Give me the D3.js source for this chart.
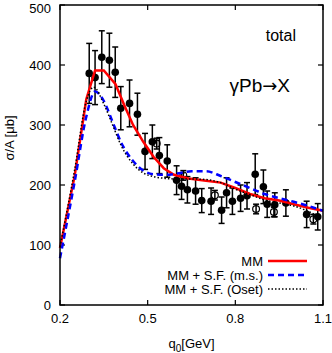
<!DOCTYPE html>
<html>
<head>
<meta charset="utf-8">
<script src="https://cdn.jsdelivr.net/npm/d3@7"></script>
<style>
  body { margin: 0; background: #fff; }
  svg { display: block; font-family: "Liberation Sans", Arial, sans-serif; }
</style>
</head>
<body>
<div id="chart"></div>
<script>
// Data (q0 in GeV, sigma/A in microbarn).
var dataX   = [0.300, 0.320, 0.343, 0.369, 0.389, 0.408, 0.438, 0.465, 0.491, 0.516, 0.540, 0.567, 0.599, 0.616, 0.636, 0.664, 0.685, 0.717, 0.753, 0.770, 0.790, 0.818, 0.840, 0.868, 0.896, 0.909, 0.935, 0.973, 1.044, 1.082];
var dataY   = [386, 379, 413, 408, 388, 328, 336, 318, 256, 272, 249, 240, 208, 198, 192, 190, 174, 173, 158, 187, 173, 178, 182, 218, 197, 168, 167, 170, 151, 147];
var dataErr = [50, 45, 44, 45, 42, 36, 39, 35, 30, 28, 30, 27, 24, 22, 22, 22, 20, 22, 22, 25, 22, 22, 22, 34, 28, 22, 20, 22, 22, 22];

var openX   = [0.531, 0.622, 0.730, 0.871, 0.932, 1.067];
var openY   = [269, 216, 183, 160, 155, 143];
var openErr = [9, 8, 8, 8, 8, 8];

var mmX  = [0.2, 0.25, 0.29, 0.32, 0.35, 0.39, 0.42, 0.45, 0.485, 0.52, 0.555, 0.59, 0.64, 0.7, 0.75, 0.8, 0.85, 0.9, 0.95, 1.0, 1.05, 1.1];
var mmY  = [95, 215, 343, 391, 391, 368, 333, 300, 272, 247, 228, 217, 211, 207, 204, 195, 185, 178, 174, 168, 162, 157];

var msX  = [0.2, 0.25, 0.29, 0.32, 0.35, 0.38, 0.41, 0.45, 0.485, 0.52, 0.56, 0.6, 0.65, 0.7, 0.75, 0.8, 0.85, 0.9, 0.95, 1.0, 1.05, 1.1];
var msY  = [78, 205, 314, 356, 340, 305, 270, 240, 224, 218, 217, 219, 223, 223, 215, 205, 195, 185, 178, 172, 165, 157];

var osetX = [0.2, 0.25, 0.29, 0.315, 0.35, 0.38, 0.41, 0.45, 0.485, 0.52, 0.56, 0.6, 0.65, 0.7, 0.75, 0.8, 0.85, 0.9, 0.95, 1.0, 1.05, 1.09];
var osetY = [97, 225, 340, 363, 335, 300, 265, 235, 220, 214, 211, 210, 210, 209, 204, 193, 184, 175, 170, 165, 156, 146];

var xTicks = [0.2, 0.5, 0.8, 1.1];
var yTicks = [0, 100, 200, 300, 400, 500];

var legendNames = ["MM", "MM + S.F. (m.s.)", "MM + S.F. (Oset)"];

(function () {
  "use strict";

  var W = 332, H = 353;
  var m = { left: 60, right: 9, top: 5, bottom: 48 };

  var svg = d3.select("#chart").append("svg")
    .attr("width", W).attr("height", H);

  var x = d3.scaleLinear().domain([0.2, 1.1]).range([m.left, W - m.right]);
  var y = d3.scaleLinear().domain([0, 500]).range([H - m.bottom, m.top]);

  var x0 = x.range()[0], x1 = x.range()[1];
  var y0 = y.range()[0], y1 = y.range()[1];
  var tl = 5;

  // frame with inward ticks on all four sides (gnuplot style)
  var axes = svg.append("g").attr("stroke", "#000").attr("stroke-width", 1.2);
  xTicks.forEach(function (t) {
    axes.append("line").attr("x1", x(t)).attr("x2", x(t)).attr("y1", y0).attr("y2", y0 - tl);
    axes.append("line").attr("x1", x(t)).attr("x2", x(t)).attr("y1", y1).attr("y2", y1 + tl);
  });
  yTicks.forEach(function (t) {
    axes.append("line").attr("x1", x0).attr("x2", x0 + tl).attr("y1", y(t)).attr("y2", y(t));
    axes.append("line").attr("x1", x1).attr("x2", x1 - tl).attr("y1", y(t)).attr("y2", y(t));
  });

  var labels = svg.append("g").attr("font-size", 13).attr("fill", "#000");
  xTicks.forEach(function (t) {
    labels.append("text").attr("x", x(t)).attr("y", y0 + 18)
      .attr("text-anchor", "middle").text(d3.format(".1f")(t));
  });
  yTicks.forEach(function (t) {
    labels.append("text").attr("x", x0 - 9).attr("y", Math.max(y(t), 8)).attr("dy", "0.35em")
      .attr("text-anchor", "end").text(t);
  });

  var xl = labels.append("text").attr("x", (x0 + x1) / 2).attr("y", H - 5)
    .attr("text-anchor", "middle");
  xl.append("tspan").text("q");
  xl.append("tspan").attr("font-size", 10).attr("dy", 4).text("0");
  xl.append("tspan").attr("dy", -4).text("[GeV]");

  labels.append("text")
    .attr("transform", "translate(14," + 138 + ") rotate(-90)")
    .attr("text-anchor", "middle").text("σ/A [μb]");

  svg.append("text").attr("x", 296).attr("y", 41).attr("text-anchor", "end")
    .attr("font-size", 16).text("total");
  var react = svg.append("text").attr("x", 290).attr("y", 92).attr("text-anchor", "end")
    .attr("font-size", 19);
  react.append("tspan").text("γPb");
  react.append("tspan").attr("font-family", "DejaVu Sans").attr("font-size", 18).text("→");
  react.append("tspan").text("X");

  // error bars and points
  var pts = svg.append("g");
  function errBars(xs, ys, es) {
    var g = pts.append("g").attr("stroke", "#000").attr("stroke-width", 1.5);
    xs.forEach(function (xv, i) {
      var cx = x(xv), top = y(ys[i] + es[i]), bot = y(ys[i] - es[i]);
      g.append("line").attr("x1", cx).attr("x2", cx).attr("y1", top).attr("y2", bot);
      g.append("line").attr("x1", cx - 3).attr("x2", cx + 3).attr("y1", top).attr("y2", top);
      g.append("line").attr("x1", cx - 3).attr("x2", cx + 3).attr("y1", bot).attr("y2", bot);
    });
  }
  errBars(dataX, dataY, dataErr);
  errBars(openX, openY, openErr);

  pts.append("g").selectAll("circle").data(dataX).join("circle")
    .attr("cx", function (d) { return x(d); })
    .attr("cy", function (d, i) { return y(dataY[i]); })
    .attr("r", 3.8).attr("fill", "#000");

  pts.append("g").selectAll("circle").data(openX).join("circle")
    .attr("cx", function (d) { return x(d); })
    .attr("cy", function (d, i) { return y(openY[i]); })
    .attr("r", 3.4).attr("fill", "none").attr("stroke", "#000").attr("stroke-width", 1.2);

  // model curves
  var series = [
    { xs: mmX, ys: mmY, color: "#ff0000", width: 2.5, dash: null, curve: d3.curveLinear },
    { xs: msX, ys: msY, color: "#0000ff", width: 2.5, dash: "6,4", curve: d3.curveMonotoneX },
    { xs: osetX, ys: osetY, color: "#000000", width: 1.5, dash: "1.5,2", curve: d3.curveMonotoneX }
  ];
  var line = d3.line();
  series.forEach(function (s) {
    line.x(function (d) { return x(d); })
      .y(function (d, i) { return y(s.ys[i]); })
      .curve(s.curve);
    svg.append("path").attr("d", line(s.xs))
      .attr("fill", "none").attr("stroke", s.color)
      .attr("stroke-width", s.width)
      .attr("stroke-dasharray", s.dash);
  });

  // legend
  var lg = svg.append("g").attr("font-size", 13);
  series.forEach(function (s, i) {
    var ly = 261 + i * 14;
    lg.append("text").attr("x", 263).attr("y", ly).attr("dy", "0.35em")
      .attr("text-anchor", "end").text(legendNames[i]);
    lg.append("line").attr("x1", 268).attr("x2", 307).attr("y1", ly).attr("y2", ly)
      .attr("stroke", s.color).attr("stroke-width", s.width)
      .attr("stroke-dasharray", s.dash);
  });

  svg.append("rect").attr("x", x0).attr("y", y1)
    .attr("width", x1 - x0).attr("height", y0 - y1)
    .attr("fill", "none").attr("stroke", "#000").attr("stroke-width", 1.5);
})();
</script>
</body>
</html>
